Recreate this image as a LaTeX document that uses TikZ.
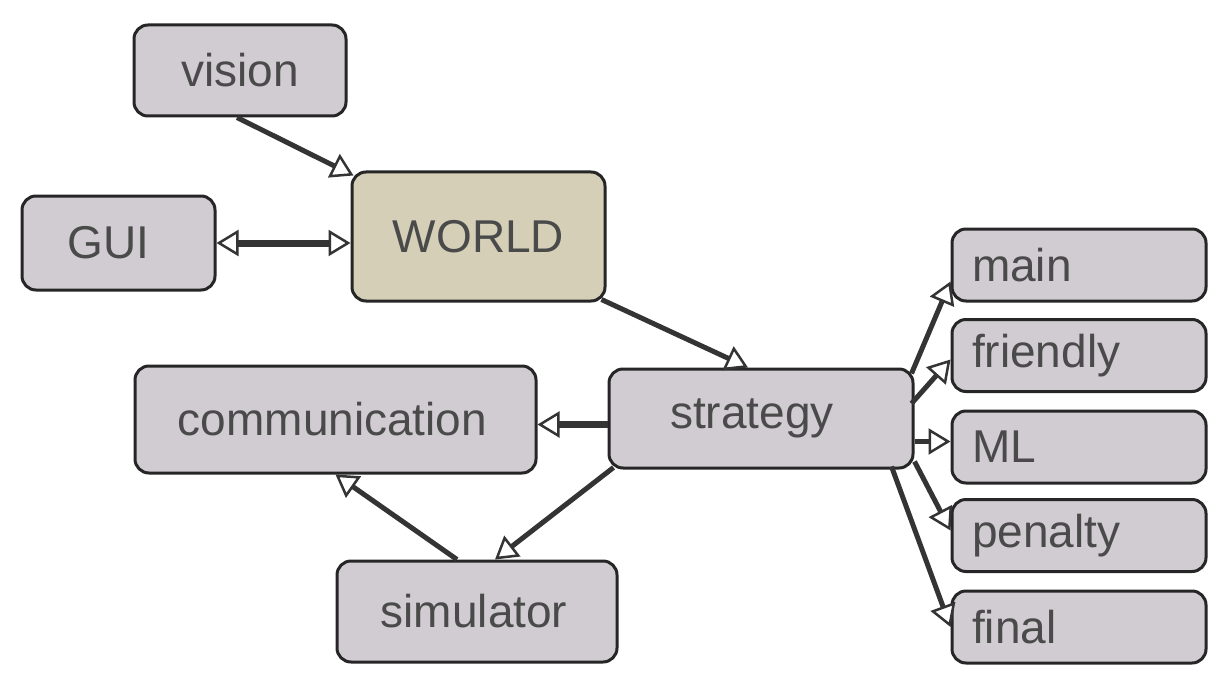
\documentclass[tikz,border=0pt]{standalone}
\usepackage{fontspec}
\setmainfont{Liberation Sans}
\usepackage{tikz}
\usetikzlibrary{arrows.meta}
\definecolor{boxgray}{RGB}{208, 204, 209}
\definecolor{worldtan}{RGB}{213, 207, 184}
\definecolor{inkgray}{RGB}{74, 74, 74}
\definecolor{wire}{RGB}{52, 52, 52}

\begin{document}
\begin{tikzpicture}[x=1pt, y=-1pt,
  box/.style={draw={rgb,255:red,38;green,38;blue,38}, line width=3pt, rounded corners=14pt,
    fill=boxgray, text=inkgray, font=\fontsize{46}{50}\selectfont, inner sep=0pt},
  subbox/.style={box, minimum width=254pt, minimum height=72pt,
    text width=214pt, align=left},
  tip/.tip={Triangle[fill=white, length=22pt, width=26pt, line width=2.5pt]},
  link/.style={wire, line width=5pt, -tip},
  wide/.style={line width=7pt}]

\fill[white] (0, 0) rectangle (1230, 687);
\useasboundingbox (0, 0) rectangle (1230, 687);

\node[box, minimum width=212pt, minimum height=91pt] (vision) at (240, 70.5) {vision};
\node[box, minimum width=193pt, minimum height=94pt] (GUI) at (118.5, 243) {GUI\hspace*{20pt}};
\node[box, fill=worldtan, minimum width=253pt, minimum height=129pt] (WORLD) at (478.5, 236.5) {WORLD};
\node[box, minimum width=304pt, minimum height=99pt] (strategy) at (761, 418.5) {strategy\hspace*{18pt}};
\node[box, minimum width=401pt, minimum height=107pt] (communication) at (335.5, 419.5) {communication\hspace*{6pt}};
\node[box, minimum width=280pt, minimum height=101pt] (simulator) at (477, 611.5) {simulator\hspace*{6pt}};

\foreach \name/\y in {main/265, friendly/355.5, ML/447, penalty/535.5, final/627} {
  \node[subbox] (\name) at (1079, \y) {\name};
}

\draw[link] ([xshift=-3pt]vision.south) -- ([shift={(3pt,-5pt)}]WORLD.north west);
\draw[link, wide, tip-tip] (GUI.east) -- (GUI.east -| WORLD.west);
\draw[link] ([shift={(-5pt,3pt)}]WORLD.south east) -- ([xshift=-13pt]strategy.north);
\draw[link, wide] ([yshift=-6pt]strategy.west) -- ([yshift=-6pt]strategy.west -| communication.east);
\draw[link] ([shift={(6pt,2pt)}]strategy.south west) -- ([xshift=18pt]simulator.north);
\draw[link] ([xshift=-20pt]simulator.north) -- (communication.south);

\draw[link] ([shift={(-3pt,-6pt)}]strategy.north east) -- ([yshift=21pt]main.south west);
\draw[link] ([shift={(-3pt,-36pt)}]strategy.north east) -- ([yshift=-4pt]friendly.west);
\draw[link] ([yshift=-23pt]strategy.east) -- ([yshift=-23pt]strategy.east -| ML.west);
\draw[link] ([yshift=8pt]strategy.south east) -- ([yshift=5pt]penalty.west);
\draw[link] ([shift={(-23pt,3pt)}]strategy.south east) -- (final.west);
\end{tikzpicture}
\end{document}
